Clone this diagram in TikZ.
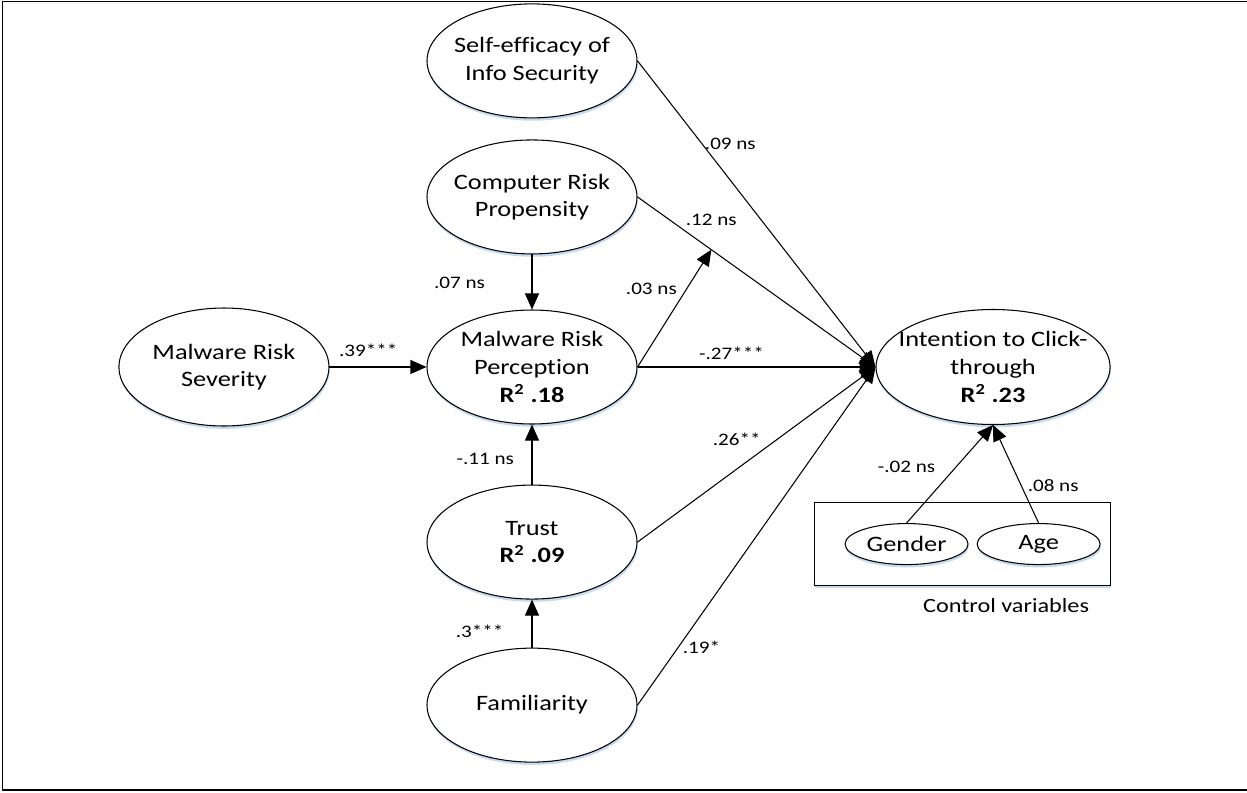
\documentclass[tikz,border=0pt]{standalone}
\usepackage{fontspec}
\setmainfont{Carlito}[FakeStretch=1.2, Ligatures={NoCommon,NoContextual,NoRare}, Contextuals=NoAlternate]
\usetikzlibrary{positioning, arrows.meta, shapes.geometric, shadows, calc}
\definecolor{shadowblue}{RGB}{200,218,240}
\newcommand{\bubblefont}{\fontsize{12.5}{15.7}\selectfont}
\newcommand{\coeffont}{\fontsize{10}{12}\selectfont}
\newcommand{\ctrlfont}{\fontsize{11.5}{14}\selectfont}
\tikzset{
    bubble/.style = {
        ellipse,
        draw,
        fill=white,
        line width=0.6pt,
        minimum width=4.2cm,
        minimum height=2.28cm,
        inner xsep=-8pt,
        inner ysep=0pt,
        align=center,
        font=\bubblefont,
        drop shadow={shadow xshift=0.4pt, shadow yshift=-1.6pt, fill=shadowblue, opacity=1}
    },
    smallbubble/.style = {bubble, minimum width=2.46cm, minimum height=0.82cm},
    ctrlbox/.style = {
        rectangle,
        draw,
        fill=white,
        line width=0.6pt,
        minimum width=5.92cm,
        minimum height=1.66cm,
        drop shadow={shadow xshift=0.4pt, shadow yshift=-1.6pt, fill=shadowblue, opacity=1}
    },
    arrow/.style = {-{Triangle[length=0.32cm, width=0.28cm]}, line width=0.6pt},
    coef/.style = {font=\coeffont, inner sep=1.5pt}
}

\begin{document}
\begin{tikzpicture}
\useasboundingbox (0,0) rectangle (24.94,-15.84);

% Cadre
\draw[line width=1.1pt] (24.94,-0.03) -| (0.05,-15.80) -- (24.94,-15.80);

% Perception au centre
\node[bubble] (mrp) at (10.64,-7.34) {Malware Risk\\Perception\\\textbf{R\textsuperscript{2} .18}};

% Au-dessus
\node[bubble, above=1.1cm of mrp] (crp) {Computer Risk\\Propensity};
\node[bubble, above=0.42cm of crp] (sei) {Self-efficacy of\\Info Security};

% En dessous
\node[bubble, below=1.2cm of mrp] (trust) {Trust\\\textbf{R\textsuperscript{2} .09}};
\node[bubble, below=0.96cm of trust] (fam) {Familiarity};

% Gauche / droite
\node[bubble, minimum height=2.36cm, left=1.94cm of mrp] (mrs) {Malware Risk\\Severity};
\node[bubble, minimum width=4.68cm, minimum height=2.3cm, right=4.76cm of mrp] (itc) {Intention to Click-\\through\\\textbf{R\textsuperscript{2} .23}};

% Variables de controle
\node[ctrlbox, below=1.54cm of itc, xshift=-0.62cm] (ctrl) {};
\node[smallbubble, right=0.62cm of ctrl.west] (gender) {Gender};
\node[smallbubble, right=0.16cm of gender] (age) {Age};
\node[font=\ctrlfont, below=0.12cm of ctrl, xshift=0.88cm] (ctrllabel) {Control variables};

% --- Liens ---
\coordinate (hit) at ($(crp.east)!0.31!(itc.west)$);

\draw[arrow] (sei.east) -- node[coef, pos=0.27, right] {.09 ns} (itc.west);
\draw[arrow] (crp.east) -- node[coef, pos=0.19, anchor=south west] {.12 ns} (itc.west);
\draw[arrow] (mrp.east) -- node[coef, pos=0.67, left=4pt] {.03 ns} (hit);
\draw[arrow] (mrp.east) -- node[coef, pos=0.395, above=2.5pt] {-.27***} (itc.west);
\draw[arrow] (trust.east) -- node[coef, pos=0.53, anchor=south east] {.26**} (itc.west);
\draw[arrow] (fam.east) -- node[coef, pos=0.17, right=1pt] {.19*} (itc.west);

\draw[arrow] (mrs.east) -- node[coef, pos=0.4, above=4pt] {.39***} (mrp.west);
\draw[arrow] (crp.south) -- node[coef, pos=0.51, left=25pt] {.07 ns} (mrp.north);
\draw[arrow] (trust.north) -- node[coef, pos=0.42, left=8.5pt] {-.11 ns} (mrp.south);
\draw[arrow] (fam.north) -- node[coef, pos=0.33, left=14.5pt] {.3***} (trust.south);

\draw[arrow] (gender.north) -- node[coef, pos=0.57, left=10pt] {-.02 ns} (itc.south);
\draw[arrow] (age.north) -- node[coef, pos=0.385, right=2pt] {.08 ns} (itc.south);

\end{tikzpicture}
\end{document}
